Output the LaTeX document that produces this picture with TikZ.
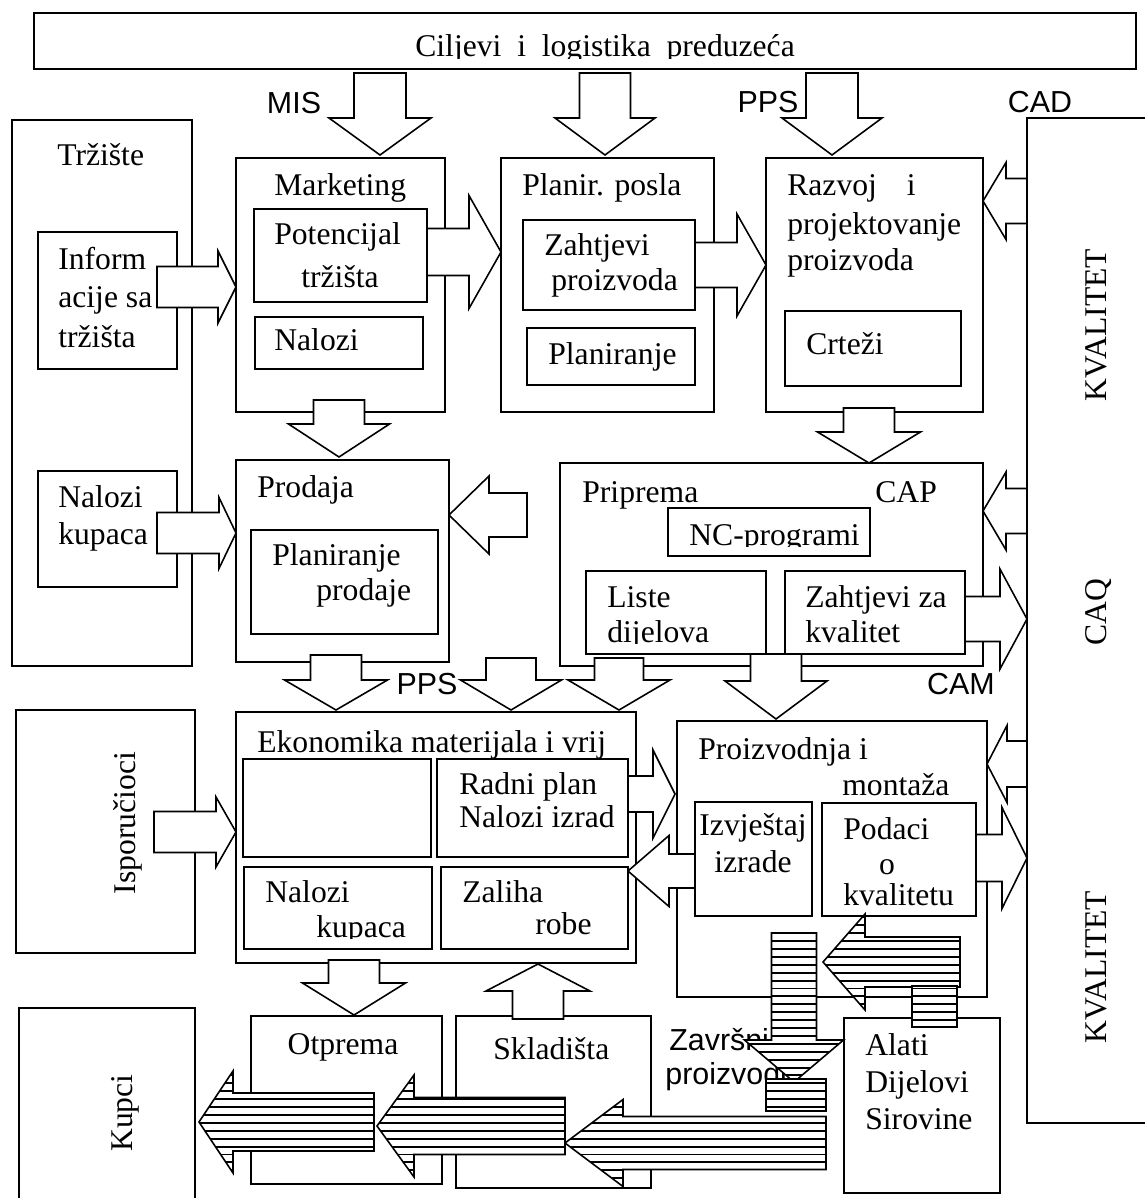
\documentclass[tikz,border=0pt]{standalone}
\usepackage{fontspec}
\setmainfont{Liberation Serif}
\setsansfont{Liberation Sans}
\usepackage{tikz}
\usetikzlibrary{fit,patterns}
\pgfdeclarepatternformonly{hstripes}{\pgfpoint{-1pt}{-1pt}}{\pgfpoint{10pt}{5.5pt}}{\pgfpoint{10pt}{4.5pt}}{%
  \pgfsetlinewidth{1.1pt}%
  \pgfpathmoveto{\pgfpoint{-1pt}{2.25pt}}%
  \pgfpathlineto{\pgfpoint{11pt}{2.25pt}}%
  \pgfusepath{stroke}}
\tikzstyle{box}=[draw,line width=0.9pt,inner sep=0pt]
\tikzstyle{txt}=[font=\fontsize{18}{22}\selectfont,inner sep=0pt,text height=12pt,text depth=4pt,anchor=west]
\tikzstyle{lbl}=[font=\sffamily\fontsize{17.3}{20}\selectfont,inner sep=0pt]
\tikzstyle{blk}=[draw,fill=white,line width=0.9pt]
\tikzstyle{hatch}=[draw,line width=0.9pt,preaction={fill=white},pattern=hstripes]
\newcommand{\barrow}[7][blk]{\draw[#1,shift={#2},rotate=#3] (0,-#5) -- (#4-#7,-#5) -- (#4-#7,-#6) -- (#4,0) -- (#4-#7,#6) -- (#4-#7,#5) -- (0,#5) -- cycle;}

\begin{document}
\begin{tikzpicture}[x=0.02cm,y=-0.02cm]
\useasboundingbox (0,0) rectangle (1144,1198);

\node[box,fit={(34,13) (1136,69)}] (cilj) {};
\node[box,fit={(12,120) (192,666)}] (trz) {};
\node[box,fit={(38,232) (177,369)}] (inf) {};
\node[box,fit={(38,471) (177,587)}] (nalk) {};
\node[box,fit={(16,710) (195,953)}] (isp) {};
\node[box,fit={(19,1008) (195,1215)}] (kup) {};
\node[box,fit={(236,158) (445,412)}] (mkt) {};
\node[box,fit={(254,209) (427,302)}] (pot) {};
\node[box,fit={(255,317) (423,369)}] (nal) {};
\node[box,fit={(501,158) (714,412)}] (plp) {};
\node[box,fit={(523,220) (695,310)}] (zpr) {};
\node[box,fit={(527,328) (695,385)}] (plan) {};
\node[box,fit={(766,158) (983,412)}] (raz) {};
\node[box,fit={(785,311) (961,386)}] (crt) {};
\node[box,fit={(1027,118) (1160,1123)}] (kval) {};
\node[box,fit={(236,460) (449,662)}] (prod) {};
\node[box,fit={(251,530) (438,634)}] (plpr) {};
\node[box,fit={(560,463) (983,666)}] (prip) {};
\node[box,fit={(668,508) (870,556)}] (nc) {};
\node[box,fit={(586,571) (766,654)}] (lis) {};
\node[box,fit={(785,571) (965,654)}] (zkv) {};
\node[box,fit={(236,712) (636,963)}] (eko) {};
\node[box,fit={(243,759) (431,857)}] (praz) {};
\node[box,fit={(437,759) (628,857)}] (rad) {};
\node[box,fit={(244,867) (432,949)}] (nkup) {};
\node[box,fit={(441,867) (628,949)}] (zal) {};
\node[box,fit={(677,721) (987,997)}] (prz) {};
\node[box,fit={(695,802) (812,916)}] (izv) {};
\node[box,fit={(822,803) (976,916)}] (pod) {};
\node[box,fit={(251,1016) (442,1184)}] (otp) {};
\node[box,fit={(456,1016) (651,1188)}] (skl) {};
\node[box,fit={(844,1018) (1000,1193)}] (ala) {};

\begin{scope}
\clip (34,13) rectangle (1136,58);
\node[txt,anchor=base west] (ciljT) at (415,56) {Ciljevi\ \ i\ \ logistika\ \ preduzeća};
\end{scope}
\begin{scope}
\clip (668,508) rectangle (870,546);
\node[txt,anchor=base west] (ncT) at (689,545) {NC-programi};
\end{scope}
\begin{scope}
\clip (586,571) rectangle (965,643);
\node[txt,anchor=base west] (lisB) at (607,642) {dijelova};
\node[txt,anchor=base west] (zkvB) at (805,642) {kvalitet};
\end{scope}
\begin{scope}
\clip (236,712) rectangle (636,757);
\node[txt,anchor=base west] (ekoT) at (257,752) {Ekonomika materijala i vrij};
\end{scope}
\begin{scope}
\clip (244,867) rectangle (432,938);
\node[txt,anchor=base west] (nkupB) at (316,937) {kupaca};
\end{scope}
\begin{scope}
\clip (822,803) rectangle (976,906);
\node[txt,anchor=base west] (podC) at (843,905) {kvalitetu};
\end{scope}

\node[txt] (trzT) at (57,158) {Tržište};
\node[txt] (infA) at (58,262) {Inform};
\node[txt] (infB) at (58,300) {acije sa};
\node[txt] (infC) at (58,340) {tržišta};
\node[txt] (nalkA) at (58,500) {Nalozi};
\node[txt] (nalkB) at (58,537) {kupaca};
\node[txt] (mktT) at (274,188) {Marketing};
\node[txt] (potA) at (274,237) {Potencijal};
\node[txt] (potB) at (301,280) {tržišta};
\node[txt] (nalT) at (274,343) {Nalozi};
\node[txt] (plpT) at (522,188) {Planir. posla};
\node[txt] (zprA) at (544,248) {Zahtjevi};
\node[txt] (zprB) at (551,283) {proizvoda};
\node[txt] (planT) at (548,357) {Planiranje};
\node[txt] (razA) at (787,188) {Razvoj\hspace{17pt}i};
\node[txt] (razB) at (787,227) {projektovanje};
\node[txt] (razC) at (787,263) {proizvoda};
\node[txt] (crtT) at (806,347) {Crteži};
\node[txt] (prodT) at (257,490) {Prodaja};
\node[txt] (plprA) at (272,558) {Planiranje};
\node[txt] (plprB) at (316,593) {prodaje};
\node[txt] (pripT) at (582,495) {Priprema};
\node[txt] (capT) at (875,495) {CAP};
\node[txt] (lisA) at (607,600) {Liste};
\node[txt] (zkvA) at (805,600) {Zahtjevi za};
\node[txt] (radA) at (459,787) {Radni plan};
\node[txt] (radB) at (459,820) {Nalozi izrad};
\node[txt] (nkupA) at (265,895) {Nalozi};
\node[txt] (zalA) at (462,895) {Zaliha};
\node[txt] (zalB) at (535,927) {robe};
\node[txt] (przA) at (698,752) {Proizvodnja i};
\node[txt] (przB) at (842,788) {montaža};
\node[txt,anchor=center] (izvA) at (753,828) {Izvještaj};
\node[txt,anchor=center] (izvB) at (753,865) {izrade};
\node[txt] (podA) at (843,832) {Podaci};
\node[txt,anchor=center] (podB) at (887,867) {o};
\node[txt,anchor=center] (otpT) at (343,1047) {Otprema};
\node[txt] (sklT) at (493,1052) {Skladišta};
\node[txt] (alaA) at (865,1048) {Alati};
\node[txt] (alaB) at (865,1085) {Dijelovi};
\node[txt] (alaC) at (865,1122) {Sirovine};
\node[txt,anchor=center,rotate=90] (kvalA) at (1099,325) {KVALITET};
\node[txt,anchor=center,rotate=90] (caqT) at (1099,612) {CAQ};
\node[txt,anchor=center,rotate=90] (kvalB) at (1099,967) {KVALITET};
\node[txt,anchor=center,rotate=90] (ispT) at (128,823) {Isporučioci};
\node[txt,anchor=center,rotate=90] (kupT) at (125,1113) {Kupci};

\node[lbl] (mis) at (294,103) {MIS};
\node[lbl] (ppsA) at (768,102) {PPS};
\node[lbl] (cad) at (1040,102) {CAD};
\node[lbl] (ppsB) at (427,684) {PPS};
\node[lbl] (cam) at (961,684) {CAM};
\node[lbl,anchor=west] (zavA) at (669,1040) {Završni};
\node[lbl,anchor=west] (zavB) at (665,1077) {proizvodi};

\barrow{(380,73)}{-90}{82}{26}{51}{37}
\barrow{(605,73)}{-90}{82}{25.5}{50}{37}
\barrow{(832,73)}{-90}{82}{26}{50}{37}
\barrow{(157,287)}{0}{79}{20.5}{36}{18}
\barrow{(427,252)}{0}{74}{23.5}{56.5}{32}
\barrow{(695,265)}{0}{71}{22.5}{51}{29}
\barrow{(1027,201)}{180}{44}{22.5}{38.5}{23}
\barrow{(339,400)}{-90}{57}{25.5}{50.5}{33}
\barrow{(157,533)}{0}{79}{20.5}{35.5}{17}
\barrow{(527,515)}{180}{78}{22}{39}{40}
\barrow{(869,408)}{-90}{55}{25.5}{51.5}{31}
\barrow{(1027,511)}{180}{44}{22.5}{39}{23}
\barrow{(965,619)}{0}{62}{22.5}{50}{27}
\barrow{(336,655)}{-90}{55}{25.5}{51.5}{30}
\barrow{(511,658)}{-90}{52}{25}{50.5}{30}
\barrow{(619,658)}{-90}{52}{24.5}{51}{30}
\barrow{(776,654)}{-90}{65}{25.5}{51}{38}
\barrow{(1027,764)}{180}{40}{23}{38.5}{20}
\barrow{(976,858)}{0}{51}{23.5}{50.5}{25}
\barrow{(628,794)}{0}{47}{18}{44}{22}
\barrow{(695,871)}{180}{67}{17}{35.5}{41}
\barrow{(154,832)}{0}{82}{20.5}{35}{20}
\barrow{(354,960)}{-90}{55}{25.5}{51.5}{32}
\barrow{(538,1019)}{90}{55}{25.5}{52}{27}

\barrow[hatch]{(960,962)}{180}{137}{25}{48}{42}
\draw[hatch] (912,986) rectangle (957,1027);
\barrow[hatch]{(794,933)}{-90}{149}{22.5}{49.5}{42}
\draw[hatch,line width=1.6pt] (766,1079) rectangle (826,1111);
\barrow[hatch]{(826,1143)}{180}{261}{26.5}{43.5}{58}
\barrow[hatch]{(565,1126)}{180}{188}{28.5}{51}{37}
\barrow[hatch]{(374,1122)}{180}{175}{29}{51}{34}
\end{tikzpicture}
\end{document}
